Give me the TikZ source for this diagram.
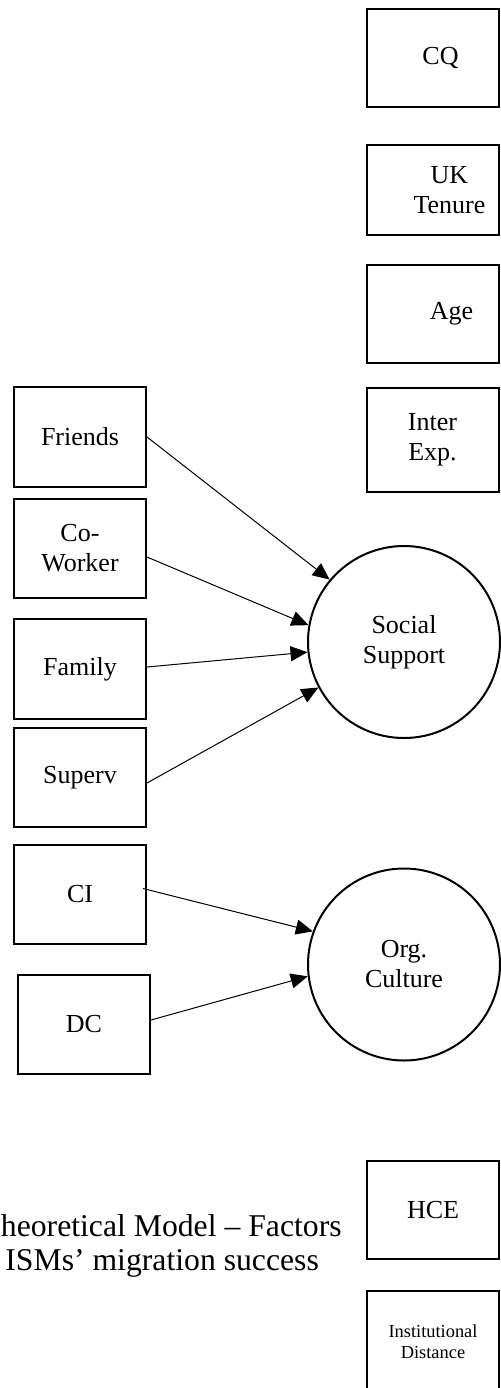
\documentclass[tikz,border=0pt]{standalone}
\usepackage{fontspec}
\setmainfont{Liberation Serif}
\usepackage{xcolor}
\usepackage{tikz}
\usetikzlibrary{arrows.meta}

\begin{document}
\begin{tikzpicture}[x=0.5pt, y=-0.5pt, font=\fontsize{13}{15}\selectfont,
    factor/.style={draw, line width=1pt, minimum width=66pt, inner sep=0pt, align=center},
    construct/.style={draw, circle, line width=1pt, minimum size=96pt, inner sep=0pt, align=center},
    link/.style={-{Triangle[length=8.5pt,width=7.5pt]}, line width=0.5pt}]
    \useasboundingbox (0,0) rectangle (500,1388);
    % right column
    \node[factor, minimum height=49pt, label={[xshift=4pt]center:CQ}] (cq) at (432.5,58) {};
    \node[factor, minimum height=45pt, label={[xshift=8.5pt,align=center]center:UK\\Tenure}] (tenure) at (432.5,190) {};
    \node[factor, minimum height=49pt, label={[xshift=9.5pt]center:Age}] (age) at (432.5,314) {};
    \node[factor, minimum height=52pt] (inter) at (432.5,439.5) {Inter\\Exp.};
    \node[factor, minimum height=49pt] (hce) at (433,1210) {HCE};
    \node[factor, minimum height=51pt, font=\fontsize{9.2}{10.5}\selectfont] (instdist) at (433,1342) {Institutional\\Distance};
    % left column
    \node[factor, minimum height=50pt] (friends) at (80,437) {Friends};
    \node[factor, minimum height=49.5pt] (cowork) at (80,548.5) {Co-\\Worker};
    \node[factor, minimum height=50pt] (family) at (80,669) {Family};
    \node[factor, minimum height=49.5pt] (superv) at (80,777.5) {Superv};
    \node[factor, minimum height=49.5pt] (ci) at (80,894.5) {CI};
    \node[factor, minimum height=49.5pt] (dc) at (84,1024.5) {DC};
    % latent constructs
    \node[construct] (social) at (404,642) {Social\\Support};
    \node[construct] (orgcult) at (404,964.5) {Org.\\Culture};
    \draw[link] (friends.east) -- (social.140);
    \draw[link] ([yshift=-4.25pt]cowork.east) -- (social.170);
    \draw[link] ([yshift=1pt]family.east) -- (social.186);
    \draw[link] ([yshift=-2.75pt]superv.east) -- (social.208);
    \draw[link] ([xshift=-2pt,yshift=3pt]ci.east) -- (orgcult.160);
    \draw[link] ([yshift=2.25pt]dc.east) -- (orgcult.187);
    % caption
    \node[anchor=base east, inner sep=0pt, font=\fontsize{15.85}{18}\selectfont] (capa) at (342,1236) {heoretical Model – Factors};
    \node[anchor=base west, inner sep=0pt, font=\fontsize{15.85}{18}\selectfont] (capb) at (5,1270) {ISMs’ migration success};
\end{tikzpicture}
\end{document}
